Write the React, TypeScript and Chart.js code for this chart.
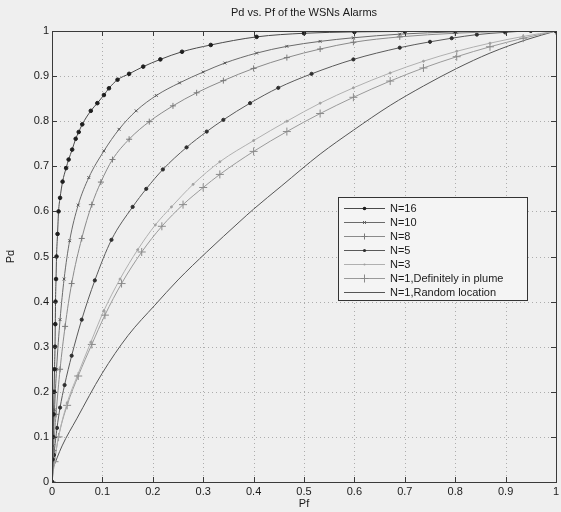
import React, { useEffect, useRef } from "react";
import { Chart, registerables } from "chart.js";

Chart.register(...registerables);

const chartTitle = "Pd vs. Pf of the WSNs Alarms";
const xAxisTitle = "Pf";
const yAxisTitle = "Pd";
const tickValues = [0, 0.1, 0.2, 0.3, 0.4, 0.5, 0.6, 0.7, 0.8, 0.9, 1];

const seriesLabels = [
  "N=16",
  "N=10",
  "N=8",
  "N=5",
  "N=3",
  "N=1,Definitely in plume",
  "N=1,Random location",
];

const n16Pf = [0, 0.001, 0.002, 0.003, 0.004, 0.005, 0.006, 0.0065, 0.007, 0.008, 0.009, 0.011, 0.013, 0.016, 0.021, 0.028, 0.033, 0.04, 0.047, 0.053, 0.06, 0.077, 0.09, 0.103, 0.113, 0.13, 0.153, 0.181, 0.215, 0.258, 0.315, 0.406, 0.5, 0.6, 0.7, 0.8, 0.9, 1];
const n16Pd = [0, 0.05, 0.1, 0.15, 0.2, 0.25, 0.3, 0.35, 0.4, 0.45, 0.5, 0.55, 0.6, 0.63, 0.666, 0.696, 0.715, 0.737, 0.761, 0.776, 0.793, 0.823, 0.84, 0.858, 0.873, 0.892, 0.905, 0.921, 0.937, 0.954, 0.969, 0.987, 0.995, 0.998, 0.999, 1, 1, 1];

const n10Pf = [0, 0.002, 0.005, 0.009, 0.016, 0.024, 0.035, 0.052, 0.073, 0.103, 0.133, 0.167, 0.207, 0.253, 0.3, 0.343, 0.406, 0.466, 0.532, 0.598, 0.69, 0.8, 0.9, 1];
const n10Pd = [0, 0.08, 0.16, 0.25, 0.36, 0.45, 0.535, 0.614, 0.675, 0.734, 0.782, 0.823, 0.857, 0.885, 0.909, 0.929, 0.951, 0.966, 0.977, 0.985, 0.993, 0.998, 1, 1];

const n8Pf = [0, 0.003, 0.008, 0.016, 0.026, 0.039, 0.059, 0.079, 0.097, 0.12, 0.153, 0.193, 0.24, 0.287, 0.34, 0.4, 0.466, 0.532, 0.598, 0.69, 0.8, 0.9, 1];
const n8Pd = [0, 0.07, 0.15, 0.25, 0.345, 0.44, 0.54, 0.615, 0.665, 0.715, 0.76, 0.799, 0.834, 0.863, 0.89, 0.917, 0.941, 0.96, 0.975, 0.987, 0.995, 0.999, 1];

const n5Pf = [0, 0.004, 0.01, 0.016, 0.025, 0.039, 0.059, 0.085, 0.118, 0.16, 0.187, 0.22, 0.267, 0.307, 0.34, 0.393, 0.449, 0.515, 0.598, 0.69, 0.75, 0.793, 0.843, 0.899, 0.95, 1];
const n5Pd = [0, 0.06, 0.12, 0.165, 0.215, 0.28, 0.36, 0.447, 0.537, 0.61, 0.65, 0.693, 0.742, 0.777, 0.803, 0.84, 0.874, 0.905, 0.937, 0.963, 0.976, 0.984, 0.992, 0.997, 1, 1];

const n3Pf = [0, 0.005, 0.013, 0.03, 0.05, 0.077, 0.103, 0.135, 0.17, 0.205, 0.237, 0.28, 0.333, 0.4, 0.466, 0.532, 0.598, 0.671, 0.737, 0.803, 0.869, 0.935, 1];
const n3Pd = [0, 0.045, 0.1, 0.175, 0.235, 0.31, 0.38, 0.45, 0.515, 0.57, 0.61, 0.66, 0.71, 0.757, 0.8, 0.84, 0.874, 0.907, 0.933, 0.955, 0.973, 0.988, 1];

const n1PlumePf = [0, 0.005, 0.013, 0.03, 0.052, 0.079, 0.105, 0.138, 0.178, 0.218, 0.26, 0.3, 0.333, 0.4, 0.466, 0.532, 0.598, 0.671, 0.737, 0.803, 0.869, 0.935, 1];
const n1PlumePd = [0, 0.045, 0.1, 0.17, 0.235, 0.305, 0.37, 0.44, 0.51, 0.567, 0.615, 0.653, 0.682, 0.733, 0.777, 0.817, 0.853, 0.889, 0.918, 0.943, 0.965, 0.984, 1];

const randomPf = [0, 0.02, 0.049, 0.099, 0.151, 0.204, 0.25, 0.307, 0.373, 0.4, 0.456, 0.532, 0.598, 0.671, 0.737, 0.803, 0.869, 0.942, 1];
const randomPd = [0.025, 0.08, 0.14, 0.24, 0.325, 0.392, 0.448, 0.51, 0.578, 0.605, 0.657, 0.727, 0.78, 0.835, 0.878, 0.917, 0.951, 0.981, 1];

const seriesPf = [n16Pf, n10Pf, n8Pf, n5Pf, n3Pf, n1PlumePf, randomPf];
const seriesPd = [n16Pd, n10Pd, n8Pd, n5Pd, n3Pd, n1PlumePd, randomPd];

const lineColors = ["#4a4a4a", "#6a6a6a", "#8a8a8a", "#5a5a5a", "#b0b0b0", "#9a9a9a", "#555555"];
const pointColors = ["#1e1e1e", "#555555", "#7a7a7a", "#2e2e2e", "#a0a0a0", "#8a8a8a", "#555555"];
const pointStyles = ["circle", "crossRot", "cross", "circle", "circle", "cross", "circle"];
const pointRadii = [1.8, 2, 3, 1.6, 1, 4, 0];

const FONT = "'Liberation Sans', Arial, sans-serif";
const BG = "#efefef";

function drawMarker(ctx: CanvasRenderingContext2D, style: string, r: number, x: number, y: number, color: string) {
  ctx.save();
  ctx.fillStyle = color;
  ctx.strokeStyle = color;
  ctx.lineWidth = 1;
  ctx.beginPath();
  if (style === "circle") {
    ctx.arc(x, y, r, 0, Math.PI * 2);
    ctx.fill();
  } else if (style === "cross") {
    ctx.moveTo(x - r, y);
    ctx.lineTo(x + r, y);
    ctx.moveTo(x, y - r);
    ctx.lineTo(x, y + r);
    ctx.stroke();
  } else if (style === "crossRot") {
    const d = r * 0.707;
    ctx.moveTo(x - d, y - d);
    ctx.lineTo(x + d, y + d);
    ctx.moveTo(x - d, y + d);
    ctx.lineTo(x + d, y - d);
    ctx.stroke();
  }
  ctx.restore();
}

export default function App() {
  const canvasRef = useRef<HTMLCanvasElement | null>(null);

  useEffect(() => {
    const canvas = canvasRef.current;
    if (!canvas) return;

    const datasets = seriesLabels.map((label, i) => ({
      label,
      data: seriesPf[i].map((x, j) => ({ x, y: seriesPd[i][j] })),
      showLine: true,
      borderColor: lineColors[i],
      borderWidth: 1,
      backgroundColor: pointColors[i],
      pointBackgroundColor: pointColors[i],
      pointBorderColor: pointColors[i],
      pointBorderWidth: 1,
      pointStyle: pointStyles[i],
      pointRadius: pointRadii[i],
      cubicInterpolationMode: "monotone",
      fill: false,
    }));

    const framePlugin = {
      id: "frame",
      beforeDatasetsDraw(chart: any) {
        const { ctx, chartArea, scales } = chart;
        const { left, right, top, bottom } = chartArea;
        ctx.save();
        ctx.strokeStyle = "#adadad";
        ctx.lineWidth = 1;
        ctx.setLineDash([1, 3]);
        tickValues.forEach((v) => {
          if (v === 0 || v === 1) return;
          const px = Math.round(scales.x.getPixelForValue(v)) + 0.5;
          ctx.beginPath();
          ctx.moveTo(px, top);
          ctx.lineTo(px, bottom);
          ctx.stroke();
          const py = Math.round(scales.y.getPixelForValue(v)) + 0.5;
          ctx.beginPath();
          ctx.moveTo(left, py);
          ctx.lineTo(right, py);
          ctx.stroke();
        });
        ctx.restore();
      },
      afterDatasetsDraw(chart: any) {
        const { ctx, chartArea, scales } = chart;
        const { left, right, top, bottom } = chartArea;
        ctx.save();
        ctx.strokeStyle = "#3a3a3a";
        ctx.lineWidth = 1;
        ctx.setLineDash([]);
        ctx.strokeRect(Math.round(left) + 0.5, Math.round(top) + 0.5, Math.round(right - left), Math.round(bottom - top));
        const tl = 5;
        tickValues.forEach((v) => {
          const px = Math.round(scales.x.getPixelForValue(v)) + 0.5;
          ctx.beginPath();
          ctx.moveTo(px, bottom);
          ctx.lineTo(px, bottom - tl);
          ctx.moveTo(px, top);
          ctx.lineTo(px, top + tl);
          ctx.stroke();
          const py = Math.round(scales.y.getPixelForValue(v)) + 0.5;
          ctx.beginPath();
          ctx.moveTo(left, py);
          ctx.lineTo(left + tl, py);
          ctx.moveTo(right, py);
          ctx.lineTo(right - tl, py);
          ctx.stroke();
        });

        // Legend box inside the plot
        const bx = 338, by = 197, bw = 189, bh = 103;
        ctx.fillStyle = "#f4f4f4";
        ctx.fillRect(bx, by, bw, bh);
        ctx.strokeStyle = "#333333";
        ctx.strokeRect(bx + 0.5, by + 0.5, bw, bh);
        ctx.font = `11px ${FONT}`;
        ctx.textBaseline = "middle";
        ctx.textAlign = "left";
        chart.data.datasets.forEach((ds: any, i: number) => {
          const y = Math.round(by + 11 + i * 14) + 0.5;
          ctx.strokeStyle = lineColors[i];
          ctx.beginPath();
          ctx.moveTo(344, y);
          ctx.lineTo(385, y);
          ctx.stroke();
          if (pointRadii[i] > 0) {
            drawMarker(ctx, pointStyles[i], pointRadii[i], 364.5, y, pointColors[i]);
          }
          ctx.fillStyle = "#1a1a1a";
          ctx.fillText(ds.label, 390, y);
        });

        // Title
        ctx.fillStyle = "#1a1a1a";
        ctx.textAlign = "center";
        ctx.font = `11px ${FONT}`;
        ctx.fillText(chartTitle, (left + right) / 2, 13);
        ctx.restore();
      },
    };

    const chart = new Chart(canvas, {
      type: "scatter",
      data: { datasets: datasets as any },
      options: {
        animation: false,
        responsive: false,
        devicePixelRatio: 1,
        layout: { padding: { top: 31, right: 4, left: 0, bottom: 0 } },
        plugins: {
          legend: { display: false },
          tooltip: { enabled: false },
          title: { display: false },
        },
        scales: {
          x: {
            type: "linear",
            min: 0,
            max: 1,
            grid: { display: false, drawTicks: false },
            border: { display: false },
            ticks: {
              stepSize: 0.1,
              padding: 3,
              color: "#1a1a1a",
              font: { family: FONT, size: 11 },
              maxRotation: 0,
              autoSkip: false,
              callback: (v: any) => String(Math.round(Number(v) * 10) / 10),
            },
            title: {
              display: true,
              text: xAxisTitle,
              color: "#1a1a1a",
              font: { family: FONT, size: 11 },
              padding: { top: 0, bottom: 1 },
            },
            afterFit: (scale: any) => {
              scale.height = 30;
              scale.paddingLeft = 0;
              scale.paddingRight = 0;
            },
          },
          y: {
            type: "linear",
            min: 0,
            max: 1,
            grid: { display: false, drawTicks: false },
            border: { display: false },
            ticks: {
              stepSize: 0.1,
              padding: 3,
              color: "#1a1a1a",
              font: { family: FONT, size: 11 },
              autoSkip: false,
              callback: (v: any) => String(Math.round(Number(v) * 10) / 10),
            },
            title: {
              display: true,
              text: yAxisTitle,
              color: "#1a1a1a",
              font: { family: FONT, size: 11 },
              padding: { top: 4, bottom: 0 },
            },
            afterFit: (scale: any) => {
              scale.width = 52;
              scale.paddingTop = 0;
              scale.paddingBottom = 0;
            },
          },
        },
      },
      plugins: [framePlugin],
    });

    return () => chart.destroy();
  }, []);

  return (
    <div style={{ position: "fixed", left: 0, top: 0, width: 561, height: 512, background: BG }}>
      <canvas ref={canvasRef} width={561} height={512} style={{ display: "block", width: 561, height: 512 }} />
    </div>
  );
}
